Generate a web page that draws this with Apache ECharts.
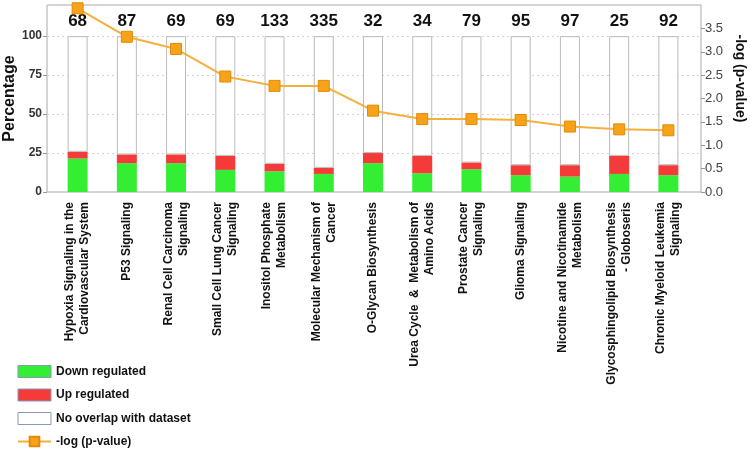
<!DOCTYPE html>
<html><head><meta charset="utf-8">
<script src="https://cdn.jsdelivr.net/npm/echarts@6/dist/echarts.min.js"></script>
<style>html,body{margin:0;padding:0;background:#fff}#c{width:750px;height:451px}</style>
</head><body><div id="c"></div>
<script>
const categories = [
  "Hypoxia Signaling in the\nCardiovascular System",
  "P53 Signaling",
  "Renal Cell Carcinoma\nSignaling",
  "Small Cell Lung Cancer\nSignaling",
  "Inositol Phosphate\nMetabolism",
  "Molecular Mechanism of\nCancer",
  "O-Glycan Biosynthesis",
  "Urea Cycle  &  Metabolism of\nAmino Acids",
  "Prostate Cancer\nSignaling",
  "Glioma Signaling",
  "Nicotine and Nicotinamide\nMetabolism",
  "Glycosphingolipid Biosynthesis\n- Globoseris",
  "Chronic Myeloid Leukemia\nSignaling"
];
const counts = [68, 87, 69, 69, 133, 335, 32, 34, 79, 95, 97, 25, 92];
const downPct = [21.5, 18.5, 18.5, 14.2, 13.3, 11.6, 18.5, 12.0, 14.6, 10.8, 9.9, 11.6, 10.8];
const upPct = [4.3, 5.6, 5.6, 9.0, 4.8, 3.9, 6.5, 11.2, 4.3, 6.4, 7.3, 11.6, 6.4];
const noOverlapPct = downPct.map((d, i) => +(100 - d - upPct[i]).toFixed(1));
const negLogP = [3.93, 3.32, 3.06, 2.47, 2.27, 2.27, 1.74, 1.56, 1.56, 1.54, 1.40, 1.34, 1.32];
const pctTicks = {min: 0, max: 120, interval: 25};
const logTicks = {min: 0, max: 4, interval: 0.5};

const chart = echarts.init(document.getElementById('c'), null, {renderer: 'canvas'});
const font = '"Liberation Sans", Arial, sans-serif';
chart.setOption({
  animation: false,
  textStyle: {fontFamily: font},
  grid: [
    {left: 53, right: 57, top: 5, bottom: 259, outerBoundsMode: 'none', containLabel: false},
    {left: 47, right: 49, top: 5, bottom: 259, outerBoundsMode: 'none', containLabel: false,
     show: true, borderColor: '#a8a8a8', borderWidth: 1, backgroundColor: 'transparent'}
  ],
  xAxis: [
    {type: 'category', data: categories, gridIndex: 0, boundaryGap: true,
     axisLine: {show: false}, axisTick: {show: false},
     axisLabel: {rotate: 90, interval: 0, margin: 10, fontSize: 12, fontWeight: 'bold', color: '#111', lineHeight: 15, fontFamily: font}},
    {type: 'value', gridIndex: 1, show: false, min: 0, max: 1}
  ],
  yAxis: [
    {type: 'value', gridIndex: 0, show: false, ...pctTicks, splitLine: {show: false}},
    {type: 'value', gridIndex: 0, show: false, ...logTicks, splitLine: {show: false}},
    {type: 'value', gridIndex: 1, ...pctTicks, position: 'left',
     name: 'Percentage', nameLocation: 'middle', nameGap: 29, nameRotate: 90, nameMoveOverlap: false,
     nameTextStyle: {fontSize: 16, fontWeight: 'bold', color: '#111', fontFamily: font},
     axisLine: {show: false}, axisTick: {show: true, length: 4, lineStyle: {color: '#999'}},
     axisLabel: {showMaxLabel: false, fontSize: 12, fontWeight: 'bold', color: '#333', margin: 5},
     splitLine: {show: true, lineStyle: {color: '#d4d4d4', type: [2, 3]}}},
    {type: 'value', gridIndex: 1, ...logTicks, position: 'right',
     name: '-log (p-value)', nameLocation: 'middle', nameGap: 32, nameRotate: -90, nameMoveOverlap: false,
     nameTextStyle: {fontSize: 14, fontWeight: 'bold', color: '#111', fontFamily: font, padding: [0, 40, 0, 0]},
     axisLine: {show: false}, axisTick: {show: true, length: 4, lineStyle: {color: '#999'}},
     axisLabel: {showMaxLabel: false, fontSize: 13, color: '#444', margin: 4, formatter: v => v.toFixed(1)},
     splitLine: {show: false}}
  ],
  legend: {
    orient: 'vertical', left: 17, top: 365, height: 100, padding: 0, itemWidth: 33, itemHeight: 12, itemGap: 10.5,
    textStyle: {fontSize: 12, fontWeight: 'bold', color: '#111', fontFamily: font},
    data: [
      {name: 'Down regulated', icon: 'rect', itemStyle: {borderColor: '#8899bb', borderWidth: 1}},
      {name: 'Up regulated', icon: 'rect', itemStyle: {borderColor: '#8899bb', borderWidth: 1}},
      {name: 'No overlap with dataset', icon: 'rect', itemStyle: {borderColor: '#8899bb', borderWidth: 1}},
      {name: '-log (p-value)'}
    ]
  },
  series: [
    {name: 'Down regulated', type: 'bar', stack: 's', data: downPct, barWidth: 20,
     itemStyle: {color: '#33ee33'}},
    {name: 'Up regulated', type: 'bar', stack: 's', data: upPct, barWidth: 20,
     itemStyle: {color: '#f53a3a'}},
    {name: 'No overlap with dataset', type: 'bar', stack: 's', data: noOverlapPct, barWidth: 20,
     itemStyle: {color: '#ffffff', borderColor: '#bbbbbb', borderWidth: 1},
     label: {show: true, position: 'top', distance: 6, fontSize: 17, fontWeight: 'bold', color: '#111',
             formatter: p => String(counts[p.dataIndex])}},
    {name: '-log (p-value)', type: 'line', yAxisIndex: 1, data: negLogP, z: 5,
     symbol: 'rect', symbolSize: 11,
     lineStyle: {color: '#f2b13c', width: 2},
     itemStyle: {color: '#f7a21b', borderColor: '#e58a00', borderWidth: 1}}
  ]
});
</script></body></html>
